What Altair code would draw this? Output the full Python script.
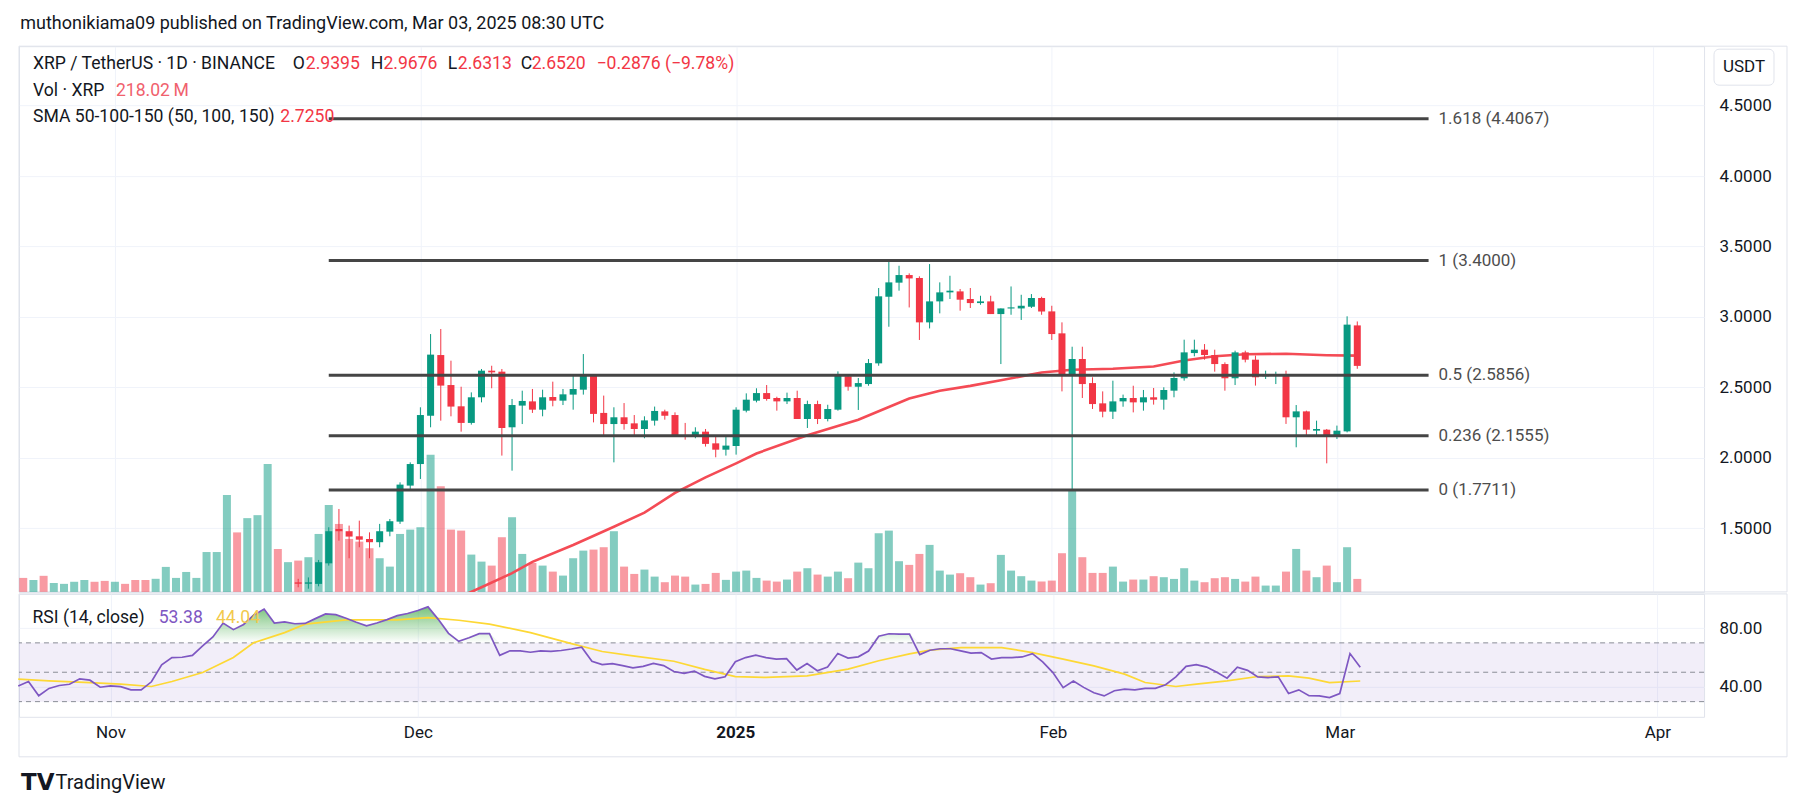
import altair as alt
import numpy as np
import pandas as pd

FONT = "Roboto"
TXT = "#131722"
UP = "#089981"
DN = "#F23645"
GRID = "#F0F3FA"
BORDER = "#E0E3EB"

# ---------------- data ----------------
start_date = "2024-10-23"
n_days = 132
candle_first = "2024-11-19"

opens = [1.115, 1.105, 1.104, 1.250, 1.494, 1.478, 1.442, 1.423, 1.400, 1.475, 1.546, 1.802,
         1.955, 2.298, 2.729, 2.516, 2.365, 2.247, 2.429, 2.618, 2.611, 2.216, 2.370, 2.400, 2.341, 2.431,
         2.405, 2.448, 2.483, 2.583, 2.318, 2.239, 2.287, 2.244, 2.204, 2.263, 2.329, 2.303, 2.161, 2.150,
         2.185, 2.102, 2.057,
         2.083, 2.334, 2.405, 2.459, 2.424, 2.400, 2.424, 2.275, 2.381, 2.275, 2.341, 2.578, 2.504, 2.523,
         2.670, 3.143, 3.243, 3.297, 3.276, 2.961, 3.110, 3.174, 3.181, 3.127, 3.098, 3.110, 3.020, 3.060,
         3.060, 3.072, 3.134,
         3.039, 2.883, 2.582, 2.701, 2.530, 2.386, 2.327, 2.400, 2.424, 2.393, 2.429, 2.412, 2.476, 2.564,
         2.743, 2.767, 2.729, 2.665, 2.564, 2.748, 2.696, 2.578, 2.582, 2.590, 2.287, 2.329, 2.192, 2.199,
         2.157, 2.187, 2.9395]
highs = [1.140, 1.150, 1.274, 1.506, 1.636, 1.518, 1.553, 1.470, 1.530, 1.565, 1.825, 1.967,
         2.358, 2.878, 2.914, 2.689, 2.504, 2.464, 2.630, 2.653, 2.630, 2.417, 2.476, 2.488, 2.483, 2.540,
         2.488, 2.583, 2.736, 2.587, 2.441, 2.358, 2.388, 2.303, 2.294, 2.363, 2.341, 2.322, 2.247, 2.216,
         2.204, 2.157, 2.157,
         2.358, 2.457, 2.493, 2.516, 2.433, 2.462, 2.476, 2.405, 2.405, 2.376, 2.613, 2.589, 2.566, 2.701,
         3.205, 3.400, 3.363, 3.309, 3.288, 3.375, 3.245, 3.292, 3.198, 3.205, 3.150, 3.150, 3.060, 3.216,
         3.157, 3.162, 3.143,
         3.079, 2.961, 2.788, 2.788, 2.571, 2.471, 2.547, 2.448, 2.511, 2.481, 2.495, 2.500, 2.606, 2.838,
         2.838, 2.807, 2.767, 2.677, 2.760, 2.760, 2.725, 2.618, 2.611, 2.618, 2.374, 2.334, 2.263, 2.204,
         2.228, 3.004, 2.9676]
lows = [1.080, 1.070, 1.087, 1.234, 1.411, 1.286, 1.364, 1.286, 1.364, 1.442, 1.530, 1.778,
        1.849, 2.216, 2.263, 2.294, 2.185, 2.235, 2.393, 2.493, 2.015, 1.908, 2.239, 2.318, 2.294, 2.365,
        2.374, 2.341, 2.448, 2.251, 2.157, 1.967, 2.199, 2.161, 2.138, 2.228, 2.270, 2.147, 2.128, 2.138,
        2.079, 2.003, 2.015,
        2.022, 2.322, 2.393, 2.405, 2.334, 2.381, 2.275, 2.211, 2.239, 2.258, 2.334, 2.476, 2.339, 2.511,
        2.653, 2.930, 3.186, 3.067, 2.836, 2.918, 3.025, 3.127, 3.044, 3.063, 3.086, 3.020, 2.665, 3.015,
        2.978, 3.063, 3.015,
        2.836, 2.471, 1.7711, 2.424, 2.346, 2.287, 2.275, 2.362, 2.322, 2.334, 2.377, 2.341, 2.429, 2.547,
        2.720, 2.696, 2.611, 2.476, 2.516, 2.677, 2.512, 2.559, 2.523, 2.240, 2.074, 2.161, 2.157, 1.960,
        2.133, 2.180, 2.6313]
closes = [1.105, 1.115, 1.258, 1.478, 1.478, 1.440, 1.418, 1.400, 1.478, 1.549, 1.809, 1.955,
          2.303, 2.732, 2.512, 2.363, 2.247, 2.429, 2.618, 2.606, 2.211, 2.374, 2.403, 2.341, 2.429, 2.405,
          2.450, 2.488, 2.583, 2.311, 2.239, 2.287, 2.239, 2.204, 2.265, 2.332, 2.298, 2.152, 2.152, 2.185,
          2.098, 2.057, 2.086,
          2.341, 2.412, 2.459, 2.417, 2.400, 2.424, 2.275, 2.381, 2.275, 2.346, 2.594, 2.504, 2.530, 2.672,
          3.146, 3.245, 3.297, 3.273, 2.961, 3.110, 3.174, 3.186, 3.122, 3.098, 3.110, 3.020, 3.060, 3.067,
          3.079, 3.134, 3.039,
          2.878, 2.582, 2.701, 2.523, 2.381, 2.327, 2.400, 2.424, 2.393, 2.429, 2.412, 2.481, 2.566, 2.748,
          2.767, 2.729, 2.665, 2.564, 2.748, 2.696, 2.571, 2.590, 2.590, 2.287, 2.329, 2.199, 2.204, 2.157,
          2.192, 2.945, 2.6520]

# volume in millions of XRP, one per day from 2024-10-23
volumes = [235, 200, 270, 150, 135, 170, 200, 170, 185, 170, 135, 200, 200, 220, 420, 235, 335, 235,
           670, 670, 1630, 1000, 1240, 1290, 2150, 720, 500,
           526, 583, 974, 1462, 1142, 890, 845, 734, 566, 425, 974, 1047,
           1087, 2307, 1776, 1047, 1030, 627, 509, 442, 919, 1255, 638, 487, 442, 341, 274, 566, 694, 711,
           751, 1020, 425, 302, 375, 257, 163, 274, 257, 123, 134, 319, 202,
           341, 358, 235, 190, 173, 207, 341, 398, 291, 257, 341, 230, 492, 398, 986, 1030, 516, 454, 638,
           790, 358, 291, 314, 247, 123, 146, 622, 358, 264, 190, 173,
           190, 650, 1714, 583, 319, 319, 425, 173, 207, 207, 264, 247, 218, 398, 190, 163, 230, 247, 218,
           173, 257, 106, 106, 341, 722, 358, 247, 442,
           163, 751, 218.02]
# direction of the days before the candles enter the visible price range
early_up = [False, True, False, True, True, True, True, False, False, True, False, False, False, True,
            True, True, True, True, True, True, True, False, True, True, True, False, True]

rsi_vals = [40.7, 43.7, 34.0, 39.0, 41.0, 41.8, 45.5, 44.6, 39.8, 40.7,
            40.2, 38.0, 38.0, 43.5, 55.0, 60.0, 60.2, 61.5, 68.0, 74.0,
            83.5, 79.0, 82.5, 89.0, 93.0, 83.5, 84.3, 83.0, 83.2, 86.5,
            89.7, 89.2, 86.8, 84.0, 81.6, 83.5, 85.8, 88.5, 90.0, 92.0,
            94.5, 86.0, 76.5, 71.0, 73.5, 76.3, 76.3, 61.5, 64.6, 64.6,
            63.6, 64.5, 64.2, 64.8, 65.8, 67.0, 57.5, 55.2, 55.9, 54.5,
            53.0, 54.0, 56.0, 54.5, 50.5, 49.2, 50.8, 47.2, 45.5, 46.9,
            57.2, 60.0, 61.6, 60.0, 59.0, 59.3, 51.5, 55.9, 51.0, 53.5,
            62.7, 59.6, 60.5, 64.4, 74.5, 76.2, 76.0, 75.9, 62.0, 65.0,
            66.0, 66.0, 64.5, 63.0, 63.4, 59.0, 60.0, 60.0, 60.4, 62.7,
            57.0, 49.8, 39.5, 44.0, 39.7, 36.0, 33.9, 37.4, 38.5, 38.0,
            39.0, 39.0, 41.5, 46.8, 54.0, 55.2, 53.5, 50.0, 46.0, 53.5,
            51.3, 46.8, 46.4, 46.9, 35.5, 38.0, 34.0, 33.9, 32.8, 35.5,
            62.7, 53.38]

rsi_ma_dates = ["2024-10-23", "2024-10-26", "2024-10-30", "2024-11-02", "2024-11-05", "2024-11-07",
                "2024-11-10", "2024-11-13", "2024-11-15", "2024-11-18", "2024-11-20", "2024-11-24",
                "2024-11-29", "2024-12-02", "2024-12-05", "2024-12-08", "2024-12-12", "2024-12-16",
                "2024-12-19", "2024-12-22", "2024-12-26", "2024-12-29", "2025-01-01", "2025-01-04",
                "2025-01-08", "2025-01-12", "2025-01-15", "2025-01-18", "2025-01-20", "2025-01-23",
                "2025-01-27", "2025-01-30", "2025-02-02", "2025-02-05", "2025-02-08", "2025-02-10",
                "2025-02-13", "2025-02-15", "2025-02-18", "2025-02-21", "2025-02-24", "2025-02-26",
                "2025-02-28", "2025-03-03"]
rsi_ma_vals = [45.3, 44.1, 43.0, 41.9, 40.3, 43.7, 49.8, 60.0, 70.2, 77.0, 82.7, 85.6, 85.6, 87.2,
               85.4, 82.7, 77.0, 69.5, 64.1, 61.2, 57.5, 52.0, 47.0, 46.5, 47.5, 52.1, 57.8, 62.5,
               65.0, 66.8, 66.8, 63.4, 58.9, 54.3, 48.7, 43.0, 40.3, 41.9, 44.1, 47.1, 47.5, 46.0,
               43.0, 44.04]

sma_dates = ["2024-12-05", "2024-12-07", "2024-12-10", "2024-12-12", "2024-12-16", "2024-12-20",
             "2024-12-23", "2024-12-26", "2024-12-29", "2025-01-01", "2025-01-03", "2025-01-08",
             "2025-01-13", "2025-01-16", "2025-01-18", "2025-01-21", "2025-01-24", "2025-01-27",
             "2025-01-31", "2025-02-03", "2025-02-07", "2025-02-11", "2025-02-14", "2025-02-17",
             "2025-02-20", "2025-02-24", "2025-02-28", "2025-03-03"]
sma_vals = [1.015, 1.08, 1.18, 1.26, 1.38, 1.51, 1.61, 1.75, 1.86, 1.96, 2.03, 2.16, 2.27, 2.36, 2.42,
            2.475, 2.51, 2.55, 2.605, 2.625, 2.632, 2.648, 2.69, 2.72, 2.735, 2.738, 2.728, 2.725]

fib_levels = ["0", "0.236", "0.5", "1", "1.618"]
fib_prices = [1.7711, 2.1555, 2.5856, 3.4000, 4.4067]
fib_from, fib_to = "2024-11-22", "2025-03-10"

month_starts = ["2024-11-01", "2024-12-01", "2025-01-01", "2025-02-01", "2025-03-01", "2025-04-01"]
month_labels = ["Nov", "Dec", "2025", "Feb", "Mar", "Apr"]
price_ticks = [1.5, 2.0, 2.5, 3.0, 3.5, 4.0, 4.5]
rsi_ticks = [40, 80]
rsi_levels = [70, 50, 30]
rsi_band = [30, 70]


def day(s):
    return (pd.Timestamp(s) - pd.Timestamp(start_date)).days


# ---------------- tables ----------------
idx = np.arange(n_days)
c0 = day(candle_first)
cd = pd.DataFrame({"i": idx[c0:], "o": opens, "h": highs, "l": lows, "c": closes})
cd["up"] = cd["c"] >= cd["o"]
cd["b_lo"] = np.minimum(cd["o"], cd["c"])
cd["b_hi"] = np.maximum(cd["o"], cd["c"])
mid = (cd["o"] + cd["c"]) / 2
thin = (cd["b_hi"] - cd["b_lo"]) < 0.008
cd.loc[thin, "b_lo"] = mid[thin] - 0.004
cd.loc[thin, "b_hi"] = mid[thin] + 0.004

base = pd.DataFrame({"i": idx, "vol": volumes, "rsi": rsi_vals})
base["up"] = list(early_up) + list(cd["up"])
base["top"] = np.maximum(base["rsi"], 70)

sma_df = pd.DataFrame({"i": [day(d) for d in sma_dates], "v": sma_vals})
ma_df = pd.DataFrame({"i": [day(d) for d in rsi_ma_dates], "v": rsi_ma_vals})
fib_df = pd.DataFrame({"x0": day(fib_from), "x1": day(fib_to), "p": fib_prices,
                       "lab": [f"{l} ({p:.4f})" for l, p in zip(fib_levels, fib_prices)]})
lvl_df = pd.DataFrame({"lv": rsi_levels})
one = pd.DataFrame({"a": [0]})

# ---------------- geometry ----------------
W, H0, H1, H2 = 1686, 35.5, 546, 123
SCALE_W = 83          # width of the price-scale column right of the panes
TIME_H = 40           # height of the time-scale strip below the RSI pane
xs = alt.Scale(domain=[0.073, 164.56], nice=False, zero=False)
ps = alt.Scale(domain=[1.0472, 4.922], nice=False, zero=False)
vs = alt.Scale(domain=[0, 9173], nice=False)
rs = alt.Scale(domain=[19.66, 103.33], nice=False, zero=False)

month_idx = [day(m) for m in month_starts]
label_expr = " : ".join(f"datum.value == {v} ? '{t}'" for v, t in zip(month_idx, month_labels)) + " : ''"
year_idx = day("2025-01-01")

xaxis_p = alt.Axis(values=month_idx, labels=False, ticks=False, domain=False, grid=True,
                   gridColor=GRID, title=None)
xaxis_r = alt.Axis(values=month_idx, labelExpr=label_expr, ticks=False, tickSize=0, domain=False,
                   grid=True, gridColor=GRID, title=None, labelFont=FONT, labelFontSize=17,
                   labelColor=TXT, labelPadding=8,
                   labelFontWeight={"condition": {"test": f"datum.value == {year_idx}", "value": "bold"},
                                    "value": "normal"})
paxis = alt.Axis(orient="right", values=price_ticks, format=".4f", labelAlign="left", labelPadding=15,
                 ticks=False, tickSize=0, domain=False, grid=True, gridColor=GRID, title=None,
                 labelFont=FONT, labelFontSize=17, labelColor=TXT)
raxis = alt.Axis(orient="right", values=rsi_ticks, format=".2f", labelAlign="left", labelPadding=15,
                 ticks=False, tickSize=0, domain=False, grid=True, gridColor=GRID, title=None,
                 labelFont=FONT, labelFontSize=17, labelColor=TXT)

Xp = alt.X("i:Q", scale=xs, axis=xaxis_p)
Xr = alt.X("i:Q", scale=xs, axis=xaxis_r)
cand_col = alt.condition("datum.up", alt.value(UP), alt.value(DN))
vol_col = alt.condition("datum.up", alt.value("rgba(8,153,129,0.5)"), alt.value("rgba(242,54,69,0.5)"))


def label(txt, px, py, color=TXT, size=17.6, weight="normal", align="left", font=FONT):
    return alt.Chart(one).mark_text(align=align, baseline="middle", font=font, fontSize=size,
                                    fontWeight=weight, color=color).encode(
        x=alt.value(px), y=alt.value(py), text=alt.value(txt))


def outline(h):
    return alt.Chart(one).mark_rect(filled=False, stroke=BORDER, strokeWidth=1).encode(
        x=alt.value(0), x2=alt.value(W + SCALE_W), y=alt.value(0), y2=alt.value(h))


# ---------------- header row ----------------
header = label("muthonikiama09 published on TradingView.com, Mar 03, 2025 08:30 UTC", 1.3, 15,
               size=18).properties(width=W, height=H0)

# ---------------- price pane ----------------
vol_layer = alt.Chart(base).mark_bar(size=8).encode(
    x=Xp, y=alt.Y("vol:Q", scale=vs, axis=None), color=vol_col)
wick = alt.Chart(cd).mark_rule(strokeWidth=1, clip=True).encode(
    x=Xp, y=alt.Y("l:Q", scale=ps, axis=paxis), y2="h:Q", color=cand_col)
body = alt.Chart(cd).mark_bar(size=7, clip=True).encode(
    x=Xp, y=alt.Y("b_lo:Q", scale=ps, axis=None), y2="b_hi:Q", color=cand_col)
sma = alt.Chart(sma_df).mark_line(color="#F44B55", strokeWidth=2.6, clip=True).encode(
    x=Xp, y=alt.Y("v:Q", scale=ps, axis=None))
fib = alt.Chart(fib_df).mark_rule(color="#454545", strokeWidth=3).encode(
    x=alt.X("x0:Q", scale=xs, axis=xaxis_p), x2="x1:Q", y=alt.Y("p:Q", scale=ps, axis=None))
fib_txt = alt.Chart(fib_df).mark_text(align="left", baseline="middle", dx=10, font=FONT, fontSize=17,
                                      color="#4d4d4d").encode(
    x=alt.X("x1:Q", scale=xs, axis=xaxis_p), y=alt.Y("p:Q", scale=ps, axis=None), text="lab:N")

legend_rows = [
    ("XRP / TetherUS · 1D · BINANCE", 14, 18, TXT), ("O", 274, 18, TXT), ("2.9395", 287, 18, DN),
    ("H", 352, 18, TXT), ("2.9676", 364.6, 18, DN), ("L", 429, 18, TXT), ("2.6313", 439, 18, DN),
    ("C", 502, 18, TXT), ("2.6520", 513, 18, DN), ("\u22120.2876 (\u22129.78%)", 577.8, 18, DN),
    ("Vol · XRP", 14, 44.5, TXT), ("218.02\u2009M", 97, 44.5, "#F0616D"),
    ("SMA 50-100-150 (50, 100, 150)", 14, 71, TXT), ("2.7250", 261.5, 71, DN),
]
price_legend = [label(t, x, y, c) for t, x, y, c in legend_rows]

usdt_box = alt.Chart(one).mark_rect(fill="white", stroke=BORDER, strokeWidth=1, cornerRadius=5).encode(
    x=alt.value(1696), x2=alt.value(1756), y=alt.value(3), y2=alt.value(39))
usdt_txt = label("USDT", 1726, 21, align="center", size=17)

price = alt.layer(outline(H1), vol_layer, sma, wick, body, fib, fib_txt, *price_legend, usdt_box,
                  usdt_txt).resolve_scale(y="independent").properties(
    width=W, height=H1, view=alt.ViewBackground(stroke=BORDER))

# ---------------- RSI pane ----------------
band = alt.Chart(one).mark_rect(color="#7E57C2", opacity=0.1).encode(
    x=alt.value(0), x2=alt.value(W), y=alt.YDatum(rsi_band[1], scale=rs, axis=raxis),
    y2=alt.Y2Datum(rsi_band[0]))
levels = alt.Chart(lvl_df).mark_rule(strokeDash=[5, 4], color="#8A8D96", strokeWidth=1).encode(
    y=alt.Y("lv:Q", scale=rs, axis=raxis))
grad = alt.Gradient(gradient="linear",
                    stops=[alt.GradientStop(color="rgba(76,175,80,0)", offset=0),
                           alt.GradientStop(color="rgba(76,175,80,0.75)", offset=1)],
                    x1=1, x2=1, y1=1, y2=0)
ob_area = alt.Chart(base).mark_area(color=grad).encode(
    x=Xr, y=alt.Y("top:Q", scale=rs, axis=raxis), y2=alt.Y2Datum(70))
ma_line = alt.Chart(ma_df).mark_line(color="#FDD835", strokeWidth=1.7).encode(
    x=Xr, y=alt.Y("v:Q", scale=rs, axis=raxis))
rsi_line = alt.Chart(base).mark_line(color="#7E57C2", strokeWidth=1.7).encode(
    x=Xr, y=alt.Y("rsi:Q", scale=rs, axis=raxis))

rsi_legend = [label("RSI (14, close)", 13.5, 24.3), label("53.38", 139.8, 24.3, "#7E57C2"),
              label("44.04", 197, 24.3, "#F2C94C")]
footer = [label("TV", 2, 189.5, TXT, size=23, weight="bold", font="DejaVu Sans"),
          label("TradingView", 36.5, 189.5, TXT, size=20)]

rsi = alt.layer(outline(H2 + TIME_H), band, levels, ob_area, ma_line, rsi_line, *rsi_legend,
                *footer).properties(width=W, height=H2, view=alt.ViewBackground(stroke=BORDER))

chart = alt.vconcat(header, price, rsi, spacing=0).properties(
    padding={"left": 6, "top": 0, "right": 0, "bottom": 0}, background="white"
).configure_view(stroke="transparent")

chart.save("out.html", embed_options={"renderer": "svg", "actions": False})
